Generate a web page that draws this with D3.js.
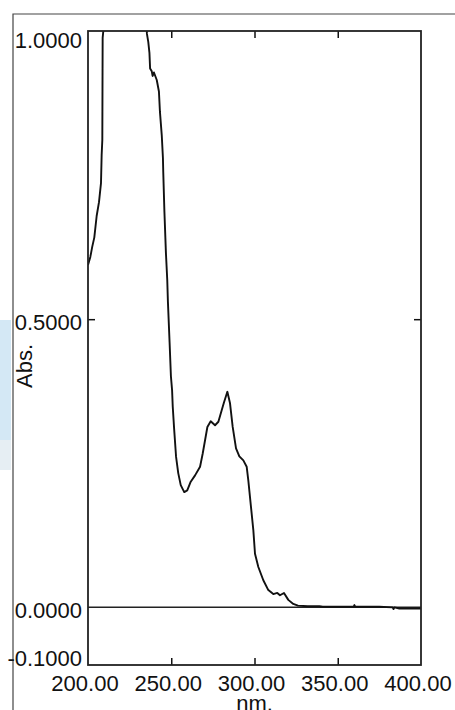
<!DOCTYPE html>
<html>
<head>
<meta charset="utf-8">
<script src="https://cdn.jsdelivr.net/npm/d3@7"></script>
<style>
    body { margin: 0; background: #fff; }
    svg { display: block; font-family: "Liberation Sans", Arial, sans-serif; }
</style>
</head>
<body>
<div id="vis"></div>
<script>
// spectrum (nm, Abs.)
const WAVELENGTH = [200.0, 201.4, 202.5, 203.8, 205.2, 206.6, 207.8, 208.2, 208.6, 208.7, 208.8, 209.2, 209.6,
    212, 218, 225, 231, 234, 234.8, 235.4, 236.2, 236.9, 237.3, 238.3, 238.8, 239.6, 241.3, 242.6, 243.2,
    244.3, 245.0, 245.2, 245.9, 246.8, 247.6, 248.0, 249.0, 249.8, 250.5, 250.9, 251.7, 252.9, 254.2, 255.7,
    257.8, 259.6, 261.7, 264.3, 267.3, 268.9, 270.3, 271.7, 273.7, 276.3, 278.3, 280.3, 281.7, 283.7, 285.3,
    286.9, 288.9, 290.9, 293.3, 295.3, 296.3, 297.9, 299.3, 300.3, 302.3, 305.3, 308.3, 311.3, 313.7, 315.3,
    317.7, 320.3, 323.3, 326.1, 332, 339, 341, 350, 359.5, 360, 360.5, 375, 383, 383.5, 384, 387, 400];
const ABSORBANCE = [0.594, 0.608, 0.625, 0.642, 0.679, 0.703, 0.736, 0.785, 0.811, 0.90, 0.988, 1.0, 1.08,
    1.3, 1.5, 1.6, 1.4, 1.15, 1.03, 0.995, 0.981, 0.962, 0.935, 0.93, 0.922, 0.928, 0.915, 0.895, 0.86,
    0.819, 0.78, 0.755, 0.686, 0.615, 0.568, 0.53, 0.46, 0.401, 0.377, 0.348, 0.311, 0.261, 0.233, 0.212,
    0.200, 0.203, 0.218, 0.229, 0.244, 0.267, 0.290, 0.313, 0.323, 0.316, 0.322, 0.342, 0.356, 0.374, 0.354,
    0.313, 0.276, 0.262, 0.255, 0.244, 0.220, 0.174, 0.134, 0.093, 0.070, 0.047, 0.030, 0.023, 0.025, 0.021,
    0.025, 0.013, 0.006, 0.003, 0.002, 0.002, 0.001, 0.001, 0.001, 0.004, 0.001, 0.001, 0.0, -0.003, 0.0, -0.002, -0.002];

const X_TICKS = [200, 250, 300, 350, 400];
const Y_TICKS = [1.0, 0.5, 0.0, -0.1];
const X_LABEL = "nm.";
const Y_LABEL = "Abs.";

// layout
const FRAME_WIDTH = 455;
const FRAME_HEIGHT = 710;
const PLOT = {left: 88, right: 421, top: 31, bottom: 665};

const X_SCALE = d3.scaleLinear().domain([200, 400]).range([PLOT.left, PLOT.right]);
const Y_SCALE = d3.scaleLinear().domain([-0.1, 1.0]).range([PLOT.bottom, PLOT.top]);

const FRAME = d3.select("#vis")
    .append("svg")
    .attr("width", FRAME_WIDTH)
    .attr("height", FRAME_HEIGHT);

// faint blue bit at left edge
FRAME.append("rect")
    .attr("x", 0).attr("y", 320).attr("width", 11).attr("height", 120)
    .attr("fill", "#d4e8f5");
FRAME.append("rect")
    .attr("x", 0).attr("y", 440).attr("width", 11).attr("height", 30)
    .attr("fill", "#e6eef3");

// outer window border
FRAME.append("path")
    .attr("d", "M13," + FRAME_HEIGHT + "V14H" + FRAME_WIDTH)
    .attr("fill", "none")
    .attr("stroke", "#444")
    .attr("stroke-width", 1.2);

FRAME.append("clipPath").attr("id", "clip")
    .append("rect")
    .attr("x", PLOT.left).attr("y", PLOT.top)
    .attr("width", PLOT.right - PLOT.left).attr("height", PLOT.bottom - PLOT.top);

// zero line
FRAME.append("line")
    .attr("x1", PLOT.left).attr("x2", PLOT.right)
    .attr("y1", Y_SCALE(0)).attr("y2", Y_SCALE(0))
    .attr("stroke", "#222").attr("stroke-width", 1.5);

// spectrum
const line = d3.line()
    .x((d, i) => X_SCALE(WAVELENGTH[i]))
    .y((d) => Y_SCALE(d));

FRAME.append("path")
    .datum(ABSORBANCE)
    .attr("clip-path", "url(#clip)")
    .attr("d", line)
    .attr("fill", "none")
    .attr("stroke", "#111")
    .attr("stroke-width", 1.9)
    .attr("stroke-linejoin", "round");

// inward ticks on all four sides
const TICK = 7;
const innerX = X_TICKS.slice(1, -1);
const innerY = Y_TICKS.filter((v) => v !== 1.0 && v !== -0.1 && v !== 0);
FRAME.append("g")
    .attr("transform", "translate(0," + PLOT.bottom + ")")
    .call(d3.axisTop(X_SCALE).tickValues(innerX).tickSize(TICK).tickFormat(""))
    .call((g) => g.select(".domain").remove());
FRAME.append("g")
    .attr("transform", "translate(0," + PLOT.top + ")")
    .call(d3.axisBottom(X_SCALE).tickValues(innerX).tickSize(TICK).tickFormat(""))
    .call((g) => g.select(".domain").remove());
FRAME.append("g")
    .attr("transform", "translate(" + PLOT.left + ",0)")
    .call(d3.axisRight(Y_SCALE).tickValues(innerY).tickSize(TICK).tickFormat(""))
    .call((g) => g.select(".domain").remove());
FRAME.append("g")
    .attr("transform", "translate(" + PLOT.right + ",0)")
    .call(d3.axisLeft(Y_SCALE).tickValues(innerY).tickSize(TICK).tickFormat(""))
    .call((g) => g.select(".domain").remove());
FRAME.selectAll(".tick line").attr("stroke", "#111").attr("stroke-width", 1.5);

// plot frame
FRAME.append("rect")
    .attr("x", PLOT.left).attr("y", PLOT.top)
    .attr("width", PLOT.right - PLOT.left).attr("height", PLOT.bottom - PLOT.top)
    .attr("fill", "none")
    .attr("stroke", "#222")
    .attr("stroke-width", 1.8);

// tick labels
FRAME.selectAll(".ylab")
    .data(Y_TICKS)
    .enter()
    .append("text")
    .attr("x", PLOT.left - 6)
    .attr("y", (d) => Math.min(Math.max(Y_SCALE(d), PLOT.top + 6), PLOT.bottom - 10) + 3)
    .attr("dy", "0.35em")
    .attr("text-anchor", "end")
    .attr("font-size", "22px")
    .attr("fill", "#111")
    .text((d) => d.toFixed(4));

FRAME.selectAll(".xlab")
    .data(X_TICKS)
    .enter()
    .append("text")
    .attr("x", (d) => X_SCALE(d) - 3)
    .attr("y", 691)
    .attr("text-anchor", "middle")
    .attr("font-size", "22px")
    .attr("fill", "#111")
    .text((d) => d.toFixed(2));

// axis titles
FRAME.append("text")
    .attr("x", (PLOT.left + PLOT.right) / 2)
    .attr("y", 711)
    .attr("text-anchor", "middle")
    .attr("font-size", "22px")
    .attr("fill", "#111")
    .text(X_LABEL);

FRAME.append("text")
    .attr("transform", "translate(32,366) rotate(-90)")
    .attr("text-anchor", "middle")
    .attr("font-size", "22px")
    .attr("fill", "#111")
    .text(Y_LABEL);
</script>
</body>
</html>
